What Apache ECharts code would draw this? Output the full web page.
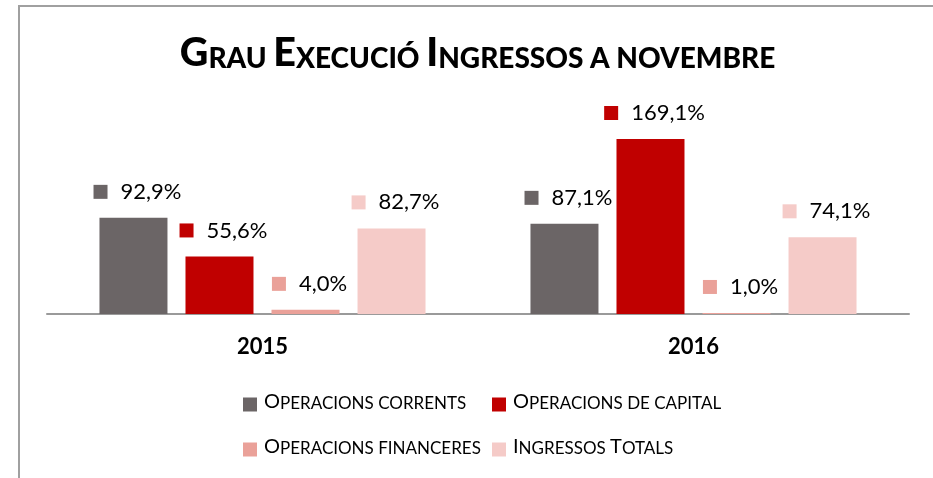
<!DOCTYPE html>
<html>
<head>
<meta charset="utf-8">
<script src="https://cdn.jsdelivr.net/npm/echarts@6/dist/echarts.min.js"></script>
<style>
  html, body { margin: 0; padding: 0; background: #ffffff; }
  #grau { width: 933px; height: 478px; }
</style>
</head>
<body>
<div id="grau"></div>
<script>
  const titleText = 'Grau Execució Ingressos a novembre';
  const years = ['2015', '2016'];
  const seriesNames = ['Operacions corrents', 'Operacions de capital', 'Operacions financeres', 'Ingressos Totals'];
  const corrents = [92.9, 87.1];
  const capital = [55.6, 169.1];
  const financeres = [4.0, 1.0];
  const totals = [82.7, 74.1];

  const values = [corrents, capital, financeres, totals];
  const colors = ['#6B6566', '#C00000', '#EAA199', '#F5CBC8'];
  const font = 'Lato';

  // versaletes: majúscules grans, minúscules com a majúscules petites
  function smallCaps(str) {
    let out = '';
    let cur = null;
    let buf = '';
    for (const ch of str) {
      const t = ch !== ch.toLowerCase() ? 'b' : 's';
      if (t !== cur && buf) {
        out += '{' + cur + '|' + buf + '}';
        buf = '';
      }
      cur = t;
      buf += ch.toUpperCase();
    }
    if (buf) out += '{' + cur + '|' + buf + '}';
    return out;
  }

  function capsRich(big, small, weight, pad) {
    return {
      b: { fontFamily: font, fontWeight: weight, fontSize: big, color: '#000', verticalAlign: 'bottom', lineHeight: Math.round(big * 0.77) },
      s: { fontFamily: font, fontWeight: weight, fontSize: small, color: '#000', verticalAlign: 'bottom', lineHeight: Math.round(small * 0.77) },
      sp: { width: pad },
    };
  }

  const legendPos = [[238, 387], [487, 387], [238, 432], [487, 432]];

  const myChart = echarts.init(document.getElementById('grau'));
  myChart.setOption({
    animation: false,
    title: {
      text: '{sp|}' + smallCaps(titleText),
      left: 'center',
      top: 38,
      textStyle: {
        rich: capsRich(39.5, 28, 900, 22),
      },
    },
    graphic: [
      {
        type: 'rect',
        silent: true,
        shape: { x: 19, y: 6, width: 1000, height: 1000 },
        style: { fill: 'none', stroke: '#A0A0A0', lineWidth: 2 },
      },
    ],
    legend: seriesNames.map((name, i) => ({
      data: [name],
      left: legendPos[i][0],
      top: legendPos[i][1],
      itemWidth: 14,
      itemHeight: 14,
      icon: 'rect',
      selectedMode: false,
      formatter: (n) => '{sp|}' + smallCaps(n),
      textStyle: {
        rich: capsRich(20, 17, 'normal', 2),
      },
    })),
    grid: {
      left: 47,
      right: 24,
      top: 107,
      bottom: 164,
    },
    xAxis: {
      type: 'category',
      data: years,
      axisTick: { show: false },
      axisLine: {
        lineStyle: { color: '#9A9A9A', width: 2 },
      },
      axisLabel: {
        margin: 22,
        fontFamily: font,
        fontWeight: 'bold',
        fontSize: 22,
        color: '#000',
      },
    },
    yAxis: {
      type: 'value',
      min: 0,
      max: 200,
      show: false,
    },
    series: seriesNames.map((name, i) => ({
      name: name,
      type: 'bar',
      data: values[i],
      barWidth: 68,
      barGap: '26.5%',
      itemStyle: { color: colors[i] },
      label: {
        show: true,
        position: 'top',
        distance: 13,
        offset: [4, 0],
        formatter: (p) => '{sq|}{gap|}{v|' + p.value.toFixed(1).replace('.', ',') + '%}',
        rich: {
          sq: { width: 14, height: 14, backgroundColor: colors[i] },
          gap: { width: 13 },
          v: { fontFamily: font, fontSize: 22, color: '#000', lineHeight: 26 },
        },
      },
    })),
  });
</script>
</body>
</html>
